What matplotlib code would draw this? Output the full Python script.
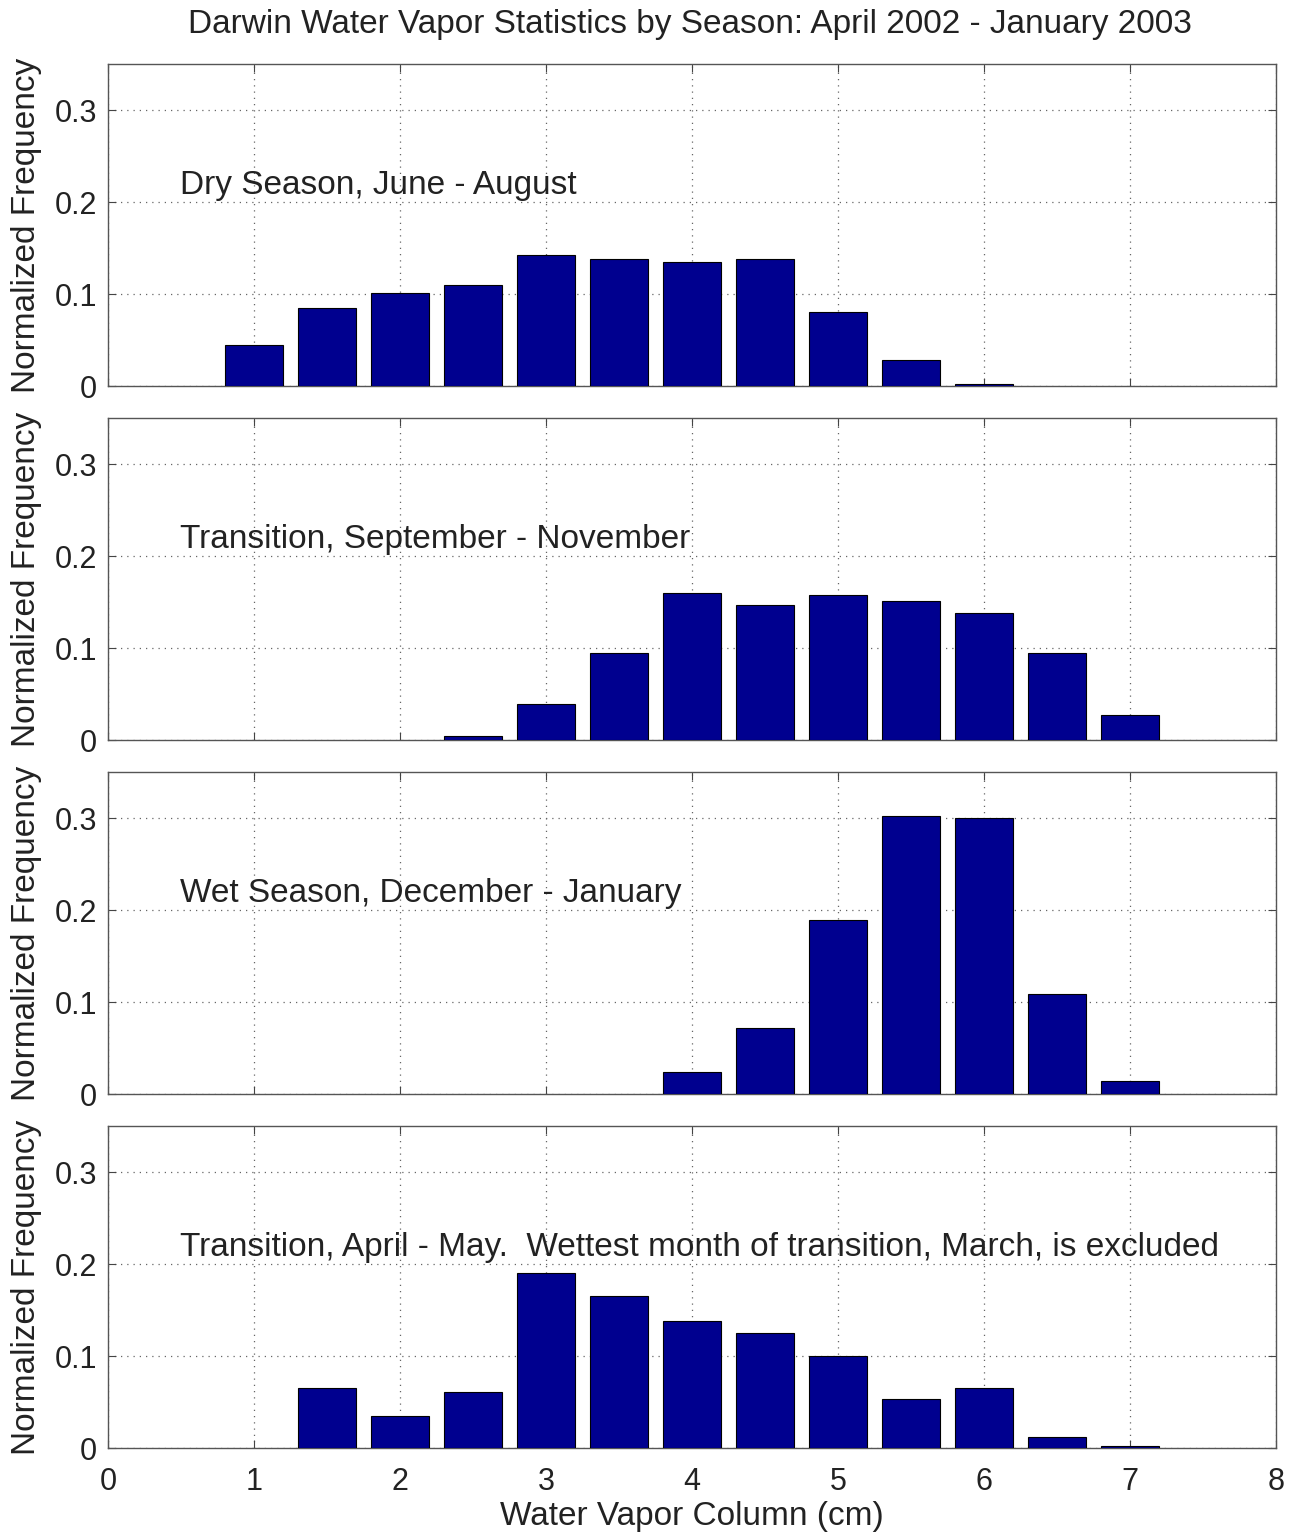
import numpy as np
import matplotlib.pyplot as plt

plt.rcParams['font.family'] = ['Liberation Sans', 'DejaVu Sans']

# bin centres (cm) and normalized frequencies for each season
bins = [1.0, 1.5, 2.0, 2.5, 3.0, 3.5, 4.0, 4.5, 5.0, 5.5, 6.0, 6.5, 7.0]
dry = [0.045, 0.085, 0.101, 0.110, 0.142, 0.138, 0.135, 0.138, 0.080, 0.028, 0.002, 0.0, 0.0]
trans_son = [0.0, 0.0, 0.0, 0.004, 0.039, 0.095, 0.160, 0.147, 0.158, 0.151, 0.138, 0.095, 0.027]
wet = [0.0, 0.0, 0.0, 0.0, 0.0, 0.0, 0.024, 0.072, 0.189, 0.302, 0.300, 0.109, 0.014]
trans_am = [0.0, 0.065, 0.035, 0.061, 0.190, 0.165, 0.138, 0.125, 0.100, 0.053, 0.065, 0.012, 0.002]

labels = ['Dry Season, June - August',
          'Transition, September - November',
          'Wet Season, December - January',
          'Transition, April - May.  Wettest month of transition, March, is excluded']
series = [dry, trans_son, wet, trans_am]

W, H = 1296, 1539
fig = plt.figure(figsize=(W / 100, H / 100), dpi=100)

left, right = 108, 1276
tops = [64, 418, 772, 1126]
height = 322

for k, (vals, lab) in enumerate(zip(series, labels)):
    ax = fig.add_axes([left / W, 1 - (tops[k] + height) / H, (right - left) / W, height / H])
    x = np.array(bins)
    v = np.array(vals)
    keep = v > 0  # empty bins are not drawn
    ax.bar(x[keep], v[keep], width=0.4, color='#00008f', edgecolor='black', linewidth=0.8, zorder=3)
    ax.set_xlim(0, 8)
    ax.set_ylim(0, 0.35)
    ax.set_xticks(range(0, 9))
    ax.set_yticks([0, 0.1, 0.2, 0.3])
    ax.set_yticklabels(['0', '0.1', '0.2', '0.3'])
    ax.grid(True, linestyle=(0, (1, 4)), color='#666666', linewidth=0.9, zorder=0)
    ax.tick_params(direction='in', top=True, right=True, length=6, labelsize=22,
                   color='#444444', labelcolor='#222222', pad=8)
    ax.tick_params(axis='x', pad=14)
    for s in ax.spines.values():
        s.set_color('#555555')
        s.set_linewidth(1.0)
    if k < 3:
        ax.set_xticklabels([])
    else:
        ax.set_xlabel('Water Vapor Column (cm)', fontsize=24, color='#222222')
        ax.xaxis.set_label_coords(0.5, -0.165)
    ax.set_ylabel('Normalized Frequency', fontsize=24, color='#222222')
    ax.yaxis.set_label_coords(-0.0565, 0.5)
    ax.text(0.49, 0.218, lab, fontsize=24, va='center', ha='left', color='#222222')

fig.text(690 / W, 1 - 25 / H, 'Darwin Water Vapor Statistics by Season: April 2002 - January 2003',
         ha='center', va='center', fontsize=24, color='#222222')

fig.savefig('out.png', dpi=100)
